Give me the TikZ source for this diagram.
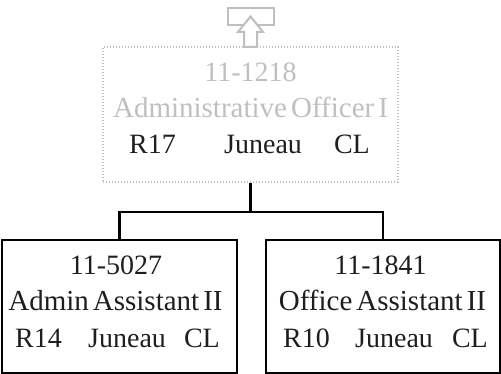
\documentclass[tikz,border=0pt]{standalone}
\usepackage{fontspec}
\setmainfont{Liberation Serif}
\usetikzlibrary{positioning}
\definecolor{faded}{RGB}{191,191,191}
\definecolor{ink}{RGB}{30,30,30}
\newcommand{\cardfont}{\fontsize{28}{32}\selectfont\spaceskip=4pt\relax}
\newcommand{\titlefont}{\fontsize{29}{32}\selectfont\spaceskip=4pt\relax}
\begin{document}
\begin{tikzpicture}[x = 1pt, y = -1pt,
	posbox/.style = {draw, line width = 2pt, minimum width = 235pt, minimum height = 133pt, inner sep = 0pt},
	vacant/.style = {draw = faded, line width = 1.2pt, dash pattern = on 1.2pt off 1.8pt,
		minimum width = 295pt, minimum height = 135pt, inner sep = 0pt},
	txt/.style = {font = \cardfont, inner sep = 0pt, text = ink},
	title/.style = {txt, font = \titlefont},
	link/.style = {line width = 2.5pt}]
	\useasboundingbox (0,0) rectangle (501,374);
	
	\node[vacant] (officer) at (250.5,114.5) {};
	\node[posbox] (admin) at (119.5,306.5) {};
	\node[posbox, minimum width = 234pt] (office) at (383,306.5) {};
	
	% go-up icon
	\draw[faded, line width = 2pt] (228,8) rectangle (274,25);
	\filldraw[fill = white, draw = faded, line width = 2pt] (250.5,16.5) -- (263,32) -- (257,32)
		-- (257,47) -- (244,47) -- (244,32) -- (238,32) -- cycle;
	
	\node[txt, text = faded, anchor = base] (officer-code) at (250.5,82) {11-1218};
	\node[title, text = faded, anchor = base] (officer-title) at (250.5,118) {Administrative Officer I};
	\node[txt, anchor = base west] (officer-range) at (129,154) {R17};
	\node[txt, anchor = base west] (officer-place) at (224,154) {Juneau};
	\node[txt, anchor = base east] (officer-unit) at (370,154) {CL};
	
	\node[txt, anchor = base] (admin-code) at (116,275) {11-5027};
	\node[title, anchor = base] (admin-title) at (115.5,311) {Admin Assistant II};
	\node[txt, anchor = base west] (admin-range) at (15,347) {R14};
	\node[txt, anchor = base west] (admin-place) at (88,347) {Juneau};
	\node[txt, anchor = base east] (admin-unit) at (220,347) {CL};
	
	\node[txt, anchor = base] (office-code) at (380.5,275) {11-1841};
	\node[title, anchor = base] (office-title) at (382.5,311) {Office Assistant II};
	\node[txt, anchor = base west] (office-range) at (283,347) {R10};
	\node[txt, anchor = base west] (office-place) at (355,347) {Juneau};
	\node[txt, anchor = base east] (office-unit) at (488,347) {CL};
	
	\coordinate (split) at (250.5,212);
	\draw[link] (officer.south) -- (split);
	\draw[link] (admin.north) |- (split) -| (office.north);
\end{tikzpicture}
\end{document}
